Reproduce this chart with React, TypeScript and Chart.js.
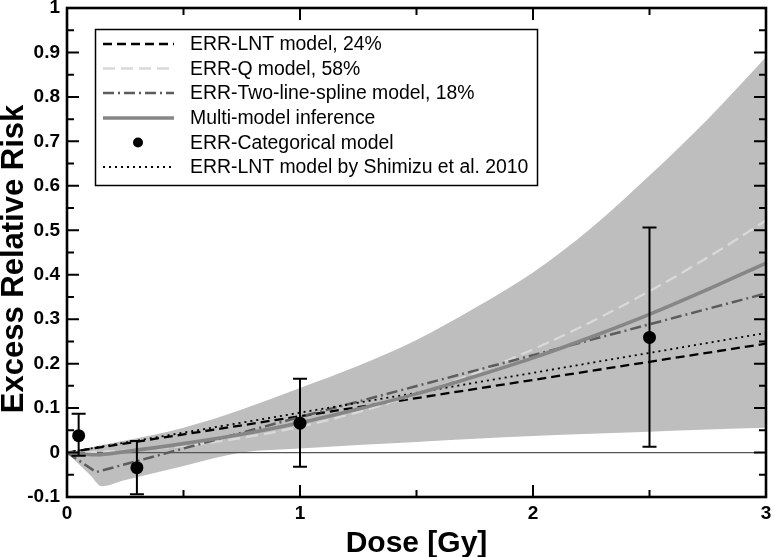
import React, { useEffect, useRef } from "react";
import { Chart, registerables } from "chart.js";
Chart.register(...registerables);

// ---- axis ticks ----
const xTicks = [0, 1, 2, 3];
const xTickLabels = ["0", "1", "2", "3"];
const yTicks = [-0.1, 0, 0.1, 0.2, 0.3, 0.4, 0.5, 0.6, 0.7, 0.8, 0.9, 1];
const yTickLabels = ["-0.1", "0", "0.1", "0.2", "0.3", "0.4", "0.5", "0.6", "0.7", "0.8", "0.9", "1"];
const xTitle = "Dose [Gy]";
const yTitle = "Excess Relative Risk";

// ---- uncertainty band of multi-model inference ----
const bandDose = [0, 0.05, 0.1, 0.15, 0.25, 0.5, 0.75, 1, 1.25, 1.5, 1.75, 2, 2.25, 2.5, 2.75, 3];
const bandLow = [0, -0.026, -0.051, -0.076, -0.062, -0.030, 0.0, 0.009, 0.017, 0.024, 0.031, 0.037, 0.042, 0.047, 0.052, 0.056];
const bandHigh = [0, 0.005, 0.011, 0.017, 0.027, 0.056, 0.097, 0.145, 0.195, 0.253, 0.325, 0.405, 0.505, 0.623, 0.75, 0.89];

// ---- model curves ----
const lntDose = [0, 3];
const lntErr = [0, 0.245];
const shimizuDose = [0, 3];
const shimizuErr = [0, 0.269];
const qDose = [0, 0.25, 0.5, 0.75, 1, 1.25, 1.5, 1.75, 2, 2.25, 2.5, 2.75, 3];
const qErr = [0, 0.004, 0.015, 0.033, 0.058, 0.091, 0.131, 0.178, 0.232, 0.294, 0.363, 0.439, 0.522];
const splineDose = [0, 0.125, 1, 2, 3];
const splineErr = [0, -0.044, 0.08, 0.219, 0.358];
const mmiDose = [0, 0.125, 0.25, 0.5, 0.75, 1, 1.25, 1.5, 1.75, 2, 2.25, 2.5, 2.75, 3];
const mmiErr = [0, -0.005, 0.002, 0.02, 0.041, 0.067, 0.098, 0.132, 0.171, 0.213, 0.26, 0.311, 0.367, 0.426];

// ---- categorical model ----
const catDose = [0.05, 0.3, 1, 2.5];
const catErr = [0.038, -0.034, 0.066, 0.259];
const catLow = [-0.007, -0.094, -0.032, 0.013];
const catHigh = [0.087, 0.026, 0.166, 0.506];

// ---- zero reference ----
const zeroDose = [0, 3];
const zeroErr = [0, 0];

const legendLabels = [
  "ERR-LNT model, 24%",
  "ERR-Q model, 58%",
  "ERR-Two-line-spline model, 18%",
  "Multi-model inference",
  "ERR-Categorical model",
  "ERR-LNT model by Shimizu et al. 2010",
];

const FONT = "'Liberation Sans', Arial, Helvetica, sans-serif";

const STY = {
  lnt: { color: "#000000", width: 2.3, dash: [9, 5] },
  q: { color: "#d9d9d9", width: 2.3, dash: [12, 6] },
  spline: { color: "#5c5c5c", width: 2.5, dash: [11, 4, 2, 4] },
  mmi: { color: "#868686", width: 3.6, dash: [] as number[] },
  shim: { color: "#000000", width: 1.8, dash: [2, 4] },
};

const pts = (xs: number[], ys: number[]) => xs.map((x, i) => ({ x, y: ys[i] }));

export default function App() {
  const ref = useRef<HTMLCanvasElement>(null);

  useEffect(() => {
    const canvas = ref.current!;

    const errorBars = {
      id: "errorBars",
      beforeDatasetDraw(chart: any, args: any) {
        if (chart.data.datasets[args.index].label !== "cat") return;
        const ctx = chart.ctx;
        const xs = chart.scales.x;
        const ys = chart.scales.y;
        ctx.save();
        ctx.strokeStyle = "#000";
        ctx.lineWidth = 2;
        ctx.setLineDash([]);
        catDose.forEach((d, i) => {
          const px = xs.getPixelForValue(d);
          const y1 = ys.getPixelForValue(catLow[i]);
          const y2 = ys.getPixelForValue(catHigh[i]);
          ctx.beginPath();
          ctx.moveTo(px, y1);
          ctx.lineTo(px, y2);
          ctx.moveTo(px - 7, y1);
          ctx.lineTo(px + 7, y1);
          ctx.moveTo(px - 7, y2);
          ctx.lineTo(px + 7, y2);
          ctx.stroke();
        });
        ctx.restore();
      },
    };

    const frame = {
      id: "frame",
      afterDraw(chart: any) {
        const ctx = chart.ctx;
        const { left, right, top, bottom } = chart.chartArea;
        const xs = chart.scales.x;
        const ys = chart.scales.y;
        ctx.save();
        ctx.strokeStyle = "#000";
        ctx.setLineDash([]);
        ctx.lineWidth = 2;
        for (let i = 0; i < yTicks.length; i++) {
          const p = ys.getPixelForValue(yTicks[i]);
          ctx.beginPath();
          ctx.moveTo(left, p); ctx.lineTo(left + 12, p);
          ctx.moveTo(right, p); ctx.lineTo(right - 12, p);
          ctx.stroke();
          if (i < yTicks.length - 1) {
            const m = ys.getPixelForValue((yTicks[i] + yTicks[i + 1]) / 2);
            ctx.beginPath();
            ctx.moveTo(left, m); ctx.lineTo(left + 7, m);
            ctx.moveTo(right, m); ctx.lineTo(right - 7, m);
            ctx.stroke();
          }
        }
        for (let i = 0; i < xTicks.length; i++) {
          const p = xs.getPixelForValue(xTicks[i]);
          ctx.beginPath();
          ctx.moveTo(p, bottom); ctx.lineTo(p, bottom - 12);
          ctx.moveTo(p, top); ctx.lineTo(p, top + 12);
          ctx.stroke();
          if (i < xTicks.length - 1) {
            const m = xs.getPixelForValue((xTicks[i] + xTicks[i + 1]) / 2);
            ctx.beginPath();
            ctx.moveTo(m, bottom); ctx.lineTo(m, bottom - 7);
            ctx.moveTo(m, top); ctx.lineTo(m, top + 7);
            ctx.stroke();
          }
        }
        ctx.lineWidth = 2.6;
        ctx.strokeRect(left, top, right - left, bottom - top);

        // axis titles
        ctx.fillStyle = "#000";
        ctx.font = `bold 30px ${FONT}`;
        ctx.textAlign = "center";
        ctx.textBaseline = "alphabetic";
        ctx.fillText(xTitle, (left + right) / 2, 552);
        ctx.save();
        ctx.translate(23, 259);
        ctx.rotate(-Math.PI / 2);
        ctx.font = `bold 31px ${FONT}`;
        ctx.fillText(yTitle, 0, 0);
        ctx.restore();

        // legend
        const bx = 95, by = 29, bw = 442, bh = 156;
        ctx.fillStyle = "#fff";
        ctx.fillRect(bx, by, bw, bh);
        ctx.lineWidth = 1.5;
        ctx.strokeStyle = "#000";
        ctx.strokeRect(bx + 0.5, by + 0.5, bw, bh);
        const rows = [44, 68.5, 93, 118, 142.5, 167];
        const styles = [STY.lnt, STY.q, STY.spline, STY.mmi, null, STY.shim];
        rows.forEach((ry, i) => {
          const s = styles[i];
          if (s) {
            ctx.beginPath();
            ctx.strokeStyle = s.color;
            ctx.lineWidth = s.width;
            ctx.setLineDash(s.dash);
            ctx.moveTo(103, ry);
            ctx.lineTo(174, ry);
            ctx.stroke();
          } else {
            ctx.setLineDash([]);
            ctx.fillStyle = "#000";
            ctx.beginPath();
            ctx.arc(138, ry, 5, 0, Math.PI * 2);
            ctx.fill();
          }
          ctx.setLineDash([]);
          ctx.fillStyle = "#000";
          ctx.font = `19.4px ${FONT}`;
          ctx.textBaseline = "middle";
          ctx.textAlign = "left";
          ctx.fillText(legendLabels[i], 190, ry + 1);
        });
        ctx.restore();
      },
    };

    const lineDs = (label: string, xs: number[], ys: number[], s: any, order: number, extra: any = {}) => ({
      label,
      data: pts(xs, ys),
      borderColor: s.color,
      borderWidth: s.width,
      borderDash: s.dash,
      pointRadius: 0,
      fill: false,
      order,
      ...extra,
    });

    const chart = new Chart(canvas, {
      type: "line",
      data: {
        datasets: [
          {
            label: "cat",
            data: pts(catDose, catErr),
            showLine: false,
            pointRadius: 6.5,
            pointBackgroundColor: "#000",
            pointBorderColor: "#000",
            pointBorderWidth: 0,
            order: 1,
          } as any,
          lineDs("mmi", mmiDose, mmiErr, STY.mmi, 2, { cubicInterpolationMode: "monotone" }),
          lineDs("shim", shimizuDose, shimizuErr, STY.shim, 3),
          lineDs("spline", splineDose, splineErr, STY.spline, 4),
          lineDs("q", qDose, qErr, STY.q, 5, { cubicInterpolationMode: "monotone" }),
          lineDs("lnt", lntDose, lntErr, STY.lnt, 6),
          lineDs("zero", zeroDose, zeroErr, { color: "#555555", width: 1.2, dash: [] }, 7),
          {
            label: "bandHigh",
            data: pts(bandDose, bandHigh),
            borderWidth: 0,
            borderColor: "rgba(0,0,0,0)",
            backgroundColor: "#bebebe",
            pointRadius: 0,
            fill: "+1",
            cubicInterpolationMode: "monotone",
            order: 8,
          } as any,
          {
            label: "bandLow",
            data: pts(bandDose, bandLow),
            borderWidth: 0,
            borderColor: "rgba(0,0,0,0)",
            pointRadius: 0,
            fill: false,
            cubicInterpolationMode: "monotone",
            order: 9,
          } as any,
        ],
      },
      options: {
        responsive: false,
        animation: false,
        devicePixelRatio: 1,
        layout: { padding: { top: 8, right: 8, left: 0, bottom: 0 } },
        plugins: { legend: { display: false }, tooltip: { enabled: false } },
        font: { family: FONT },
        scales: {
          x: {
            type: "linear",
            min: 0,
            max: 3,
            afterBuildTicks: (s: any) => { s.ticks = xTicks.map((v) => ({ value: v })); },
            afterFit: (s: any) => { s.height = 60; s.paddingLeft = 0; s.paddingRight = 0; },
            grid: { display: false, drawTicks: false },
            border: { display: false },
            ticks: {
              autoSkip: false,
              maxRotation: 0,
              padding: 5,
              color: "#000",
              font: { family: FONT, size: 19, weight: "bold" },
              callback: (_v: any, i: number) => xTickLabels[i],
            },
            title: { display: false },
          },
          y: {
            type: "linear",
            min: -0.1,
            max: 1,
            afterBuildTicks: (s: any) => { s.ticks = yTicks.map((v) => ({ value: v })); },
            afterFit: (s: any) => { s.width = 67; s.paddingTop = 0; s.paddingBottom = 0; },
            grid: { display: false, drawTicks: false },
            border: { display: false },
            ticks: {
              autoSkip: false,
              padding: 7,
              color: "#000",
              font: { family: FONT, size: 19, weight: "bold" },
              callback: (_v: any, i: number) => yTickLabels[i],
            },
            title: { display: false },
          },
        },
      } as any,
      plugins: [errorBars, frame],
    });

    return () => chart.destroy();
  }, []);

  return (
    <div style={{ position: "fixed", left: 0, top: 0, width: 774, height: 557, background: "#fff" }}>
      <canvas ref={ref} width={774} height={557} style={{ display: "block" }} />
    </div>
  );
}
